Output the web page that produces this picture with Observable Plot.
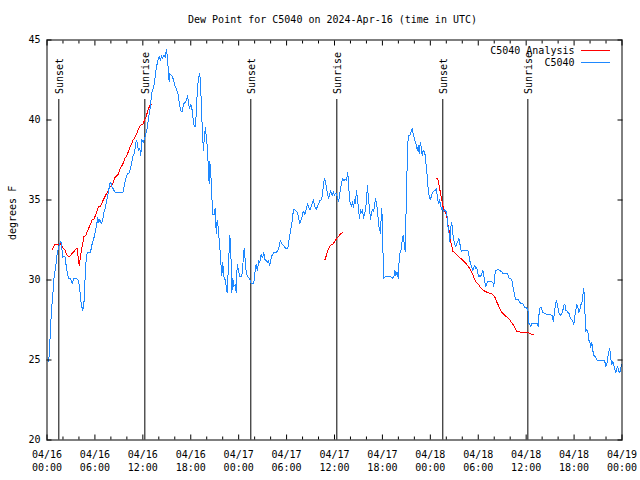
<!DOCTYPE html>
<html><head><meta charset="utf-8">
<script src="https://cdn.jsdelivr.net/npm/d3@7"></script>
<script src="https://cdn.jsdelivr.net/npm/@observablehq/plot@0.6"></script>
<style>body{margin:0;background:#fff}</style>
</head><body><div id="chart"></div>
<script>
const titleText = "Dew Point for C5040 on 2024-Apr-16 (time in UTC)";
const yLabelText = "degrees F";
const startTime = "2024-04-16T00:00:00Z";
const endTime = "2024-04-19T00:00:00Z";
const yTicks = [20, 25, 30, 35, 40, 45];
const seriesNames = ["C5040 Analysis", "C5040"];
const seriesColors = ["#ff0000", "#1e88ff"];
const sunLabels = ["Sunset", "Sunrise", "Sunset", "Sunrise", "Sunset", "Sunrise"];
const sunHours = [1.48, 12.25, 25.52, 36.29, 49.56, 60.21];

// C5040 observations: [hours since 04/16 00:00 UTC, dew point F]
const c5040Obs = [
[0.19,24.9],[0.31,25.5],[0.44,27.0],[0.56,28.1],[0.73,29.1],[0.85,30.0],[0.98,30.5],[1.15,31.1],[1.28,31.7],[1.48,32.1],[1.69,32.4],[1.82,32.3],[1.94,31.4],[2.10,31.5],[2.23,31.5],[2.40,30.9],[2.53,30.5],[2.69,30.1],[2.94,30.1],[3.16,29.8],[3.36,30.1],[3.69,30.1],[3.91,30.0],[4.07,29.6],[4.19,28.9],[4.32,28.4],[4.48,28.1],[4.66,28.75],[4.78,30.3],[4.95,31.6],[5.11,31.7],[5.45,31.7],[5.57,32.1],[5.74,32.4],[5.86,32.6],[6.04,33.0],[6.20,33.4],[6.36,33.9],[6.49,33.6],[6.61,33.8],[6.79,33.5],[6.95,33.7],[7.11,34.2],[7.29,34.5],[7.45,34.9],
[7.66,35.4],[7.86,36.0],[7.99,36.1],[8.16,35.8],[8.29,35.7],[8.49,35.5],[8.95,35.5],[9.54,35.5],[9.67,35.9],[9.83,36.25],[10.04,36.6],[10.29,36.7],[10.46,37.0],[10.62,37.4],[10.79,37.8],[10.96,37.9],[11.12,38.6],[11.24,38.75],[11.37,38.3],[11.49,38.1],[11.62,38.2],[11.75,37.8],[11.87,38.8],[12.05,38.6],[12.21,38.85],[12.37,39.1],[12.55,39.5],[12.71,40.1],[12.87,40.6],[12.96,40.9],[13.12,41.7],[13.30,42.0],[13.46,42.3],[13.59,42.9],[13.71,43.3],[13.87,43.7],[14.05,43.96],[14.21,43.7],[14.34,44.0],[14.46,43.85],[14.63,44.06],[14.80,43.9],[14.96,44.4],[15.09,43.85],[15.21,42.9],[15.30,42.4],[15.38,42.9],[15.55,42.8],[15.72,42.7],[15.88,42.4],[16.05,42.1],[16.22,41.9],[16.38,41.7],[16.55,41.1],[16.72,40.6],[16.93,40.5],[17.09,41.0],[17.31,41.1],[17.47,41.25],[17.59,41.5],[17.72,41.1],[17.84,40.7],[18.01,41.0],[18.18,40.6],[18.31,40.0],[18.43,39.6],[18.60,39.6],[18.72,40.8],[18.85,42.1],[19.01,42.7],[19.13,42.9],[19.22,42.2],[19.35,40.8],[19.47,39.0],[19.60,38.1],[19.72,39.1],[19.85,39.5],[19.97,38.75],[20.10,38.3],[20.22,36.7],[20.31,36.0],[20.39,37.4],[20.51,36.7],[20.64,35.2],[20.76,34.1],[20.94,34.1],[21.06,34.5],[21.19,32.9],[21.31,33.75],[21.44,33.3],[21.56,32.5],[21.64,32.1],[21.76,31.1],[21.89,30.3],[22.01,31.1],[22.14,30.2],[22.26,30.1],[22.39,29.8],[22.56,29.2],[22.69,30.6],[22.89,32.8],[23.02,31.8],[23.14,29.2],[23.27,30.1],[23.39,29.6],[23.57,29.7],[23.69,29.2],[23.82,31.0],[23.98,30.6],[24.14,30.2],[24.39,30.2],[24.57,31.25],[24.69,32.0],[24.82,31.2],[24.94,30.5],[25.11,30.2],[25.36,30.1],[25.57,29.8],[25.90,29.8],[26.02,30.4],[26.20,31.0],[26.32,30.6],[26.40,30.8],[26.52,31.2],[26.65,31.1],[26.82,31.6],[26.98,31.4],[27.15,31.7],[27.27,31.3],[27.45,31.2],[27.57,31.1],[27.74,31.2],[27.90,30.9],[28.07,31.4],[28.24,31.6],[28.40,31.7],[28.61,31.7],[28.83,31.8],[29.03,32.0],[29.20,32.45],[29.36,32.3],[29.53,32.2],[29.70,32.1],[29.86,32.0],[30.15,32.0],[30.37,32.7],[30.49,33.1],[30.62,33.4],[30.74,33.9],[30.87,34.4],[31.03,34.4],[31.21,34.3],[31.37,34.2],[31.53,33.85],[31.66,33.5],[31.78,33.7],[31.91,33.9],[32.03,34.2],[32.16,34.3],[32.28,34.1],[32.46,34.4],[32.62,34.8],[32.78,34.5],[32.96,34.4],[33.08,34.6],[33.21,34.8],[33.37,35.0],[33.53,34.6],[33.71,34.4],[33.87,34.6],[34.03,34.8],[34.21,35.0],[34.37,35.0],[34.50,35.4],[34.62,36.0],[34.75,36.35],[34.87,36.1],[35.00,35.8],[35.12,35.4],[35.25,35.1],[35.37,35.3],[35.50,35.6],[35.62,35.4],[35.75,35.3],[35.87,35.5],[36.00,35.3],[36.12,35.4],[36.25,35.4],[36.37,35.1],[36.50,34.9],[36.62,35.2],[36.75,35.7],[36.87,36.0],[37.00,36.35],[37.16,36.2],[37.34,36.3],[37.51,36.2],[37.64,36.7],[37.75,36.2],[37.88,35.0],[38.00,34.8],[38.13,34.6],[38.25,34.9],[38.38,34.5],[38.50,35.0],[38.63,34.8],[38.75,35.6],[38.88,35.1],[39.00,34.4],[39.13,33.85],[39.26,34.4],[39.38,34.2],[39.51,34.4],[39.63,33.85],[39.76,34.2],[39.88,34.3],[40.01,35.1],[40.13,35.9],[40.26,35.0],[40.38,34.5],[40.51,33.75],[40.63,34.2],[40.76,34.4],[40.88,34.3],[41.01,34.6],[41.13,35.1],[41.26,34.8],[41.38,34.4],[41.51,33.5],[41.63,33.2],[41.76,32.9],[41.85,34.0],[41.92,34.5],[42.01,33.3],[42.10,31.1],[42.17,30.1],[42.39,30.2],[42.80,30.2],[43.01,30.2],[43.23,30.1],[43.43,30.2],[43.56,30.6],[43.68,30.3],[43.85,30.5],[43.98,30.1],[44.10,31.25],[44.23,31.8],[44.35,31.9],[44.48,32.5],[44.60,32.8],[44.73,32.3],[44.85,31.8],[44.93,33.6],[45.02,35.5],[45.10,37.2],[45.23,39.0],[45.39,39.05],[45.52,39.1],[45.60,39.3],[45.73,39.5],[45.86,39.1],[45.98,38.9],[46.11,38.6],[46.23,38.5],[46.36,38.1],[46.48,38.4],[46.61,37.9],[46.73,38.6],[46.86,38.3],[46.98,37.8],[47.11,38.1],[47.24,38.0],[47.36,37.8],[47.49,37.1],[47.61,36.5],[47.74,35.6],[47.86,35.2],[47.99,35.0],[48.11,35.2],[48.24,35.4],[48.36,35.5],[48.49,35.6],[48.61,35.6],[48.74,35.7],[48.81,35.5],[48.93,35.0],[49.02,34.8],[49.15,35.0],[49.27,34.7],[49.40,34.4],[49.52,34.5],[49.65,34.3],[49.81,34.4],[49.94,34.3],[50.06,34.2],[50.19,33.4],[50.31,33.1],[50.44,32.4],[50.56,33.3],[50.69,33.6],[50.81,32.9],[50.94,32.5],[51.06,32.2],[51.19,32.1],[51.32,32.3],[51.44,32.4],[51.57,32.6],[51.69,32.3],[51.82,31.9],[51.94,31.8],[52.15,31.85],[52.40,31.85],[52.69,31.85],[52.82,31.6],[52.94,31.2],[53.07,31.0],[53.19,30.8],[53.32,30.6],[53.44,30.8],[53.57,30.9],[53.69,30.7],[53.82,30.8],[53.94,30.4],[54.07,30.2],[54.19,30.3],[54.32,30.2],[54.44,30.4],[54.57,30.6],[54.69,30.3],[54.82,29.9],[54.94,29.6],[55.07,29.8],[55.19,29.9],[55.53,29.9],[55.82,29.85],[55.95,29.6],[56.07,30.3],[56.20,30.6],[56.45,30.65],[56.70,30.6],[56.95,30.5],[57.07,30.4],[57.32,30.4],[57.62,30.4],[57.74,30.3],[57.87,30.1],[58.12,30.05],[58.25,29.9],[58.37,29.5],[58.45,29.3],[58.58,28.96],[58.70,28.8],[58.95,28.8],[59.20,28.6],[59.33,28.55],[59.58,28.5],[59.83,28.3],[60.08,28.25],[60.26,28.0],[60.33,27.3],[60.46,27.2],[60.58,27.1],[60.71,27.3],[60.92,27.3],[61.17,27.3],[61.38,27.3],[61.51,27.1],[61.63,28.0],[61.76,28.3],[61.92,28.3],[62.05,28.0],[62.21,27.95],[62.42,27.9],[62.63,27.85],[62.84,27.85],[63.26,27.8],[63.39,27.4],[63.51,27.8],[63.64,28.4],[63.76,28.7],[63.89,28.5],[64.01,28.2],[64.14,27.9],[64.30,27.8],[64.47,27.9],[64.59,28.1],[64.72,28.4],[64.84,28.5],[64.97,28.1],[65.14,28.05],[65.26,27.95],[65.39,27.9],[65.55,27.6],[65.72,27.5],[65.84,27.4],[65.97,27.2],[66.09,27.7],[66.22,28.1],[66.34,28.5],[66.47,28.3],[66.59,27.95],[66.72,28.1],[66.84,28.5],[66.97,28.5],[67.09,29.0],[67.22,29.5],[67.30,28.8],[67.39,27.6],[67.47,26.8],[67.59,26.9],[67.72,26.8],[67.84,26.25],[67.97,26.1],[68.09,25.8],[68.22,26.1],[68.34,25.6],[68.47,25.3],[68.64,25.2],[68.89,25.0],[69.31,25.0],[69.72,25.0],[69.85,24.9],[69.97,24.6],[70.10,24.7],[70.22,25.2],[70.35,25.5],[70.47,25.7],[70.60,25.1],[70.72,24.7],[70.85,24.9],[70.97,24.7],[71.10,24.4],[71.22,24.2],[71.35,24.5],[71.47,24.6],[71.60,24.3],[71.72,24.2],[71.85,24.5],[71.97,24.7]
];

// C5040 Analysis, three separate segments
const analysisSeg1 = [
[0.69,31.9],[0.85,32.1],[0.98,32.2],[1.40,32.2],[1.60,32.3],[1.82,32.2],[2.03,32.0],[2.23,31.9],[2.44,31.6],[2.65,31.5],[2.94,31.5],[3.19,31.7],[3.41,31.8],[3.57,31.9],[3.78,32.0],[3.91,31.4],[4.03,30.9],[4.16,31.3],[4.32,31.9],[4.45,32.2],[4.61,32.7],[4.86,32.8],[5.03,33.0],[5.20,33.2],[5.36,33.4],[5.53,33.6],[5.70,33.8],[5.86,33.8],[6.04,34.0],[6.20,34.2],[6.36,34.5],[6.54,34.6],[6.70,34.6],[6.86,34.8],[7.04,35.0],[7.24,35.2],[7.45,35.4],[7.70,35.6],[7.86,35.8],[8.08,35.9],[8.29,36.1],[8.49,36.4],[8.70,36.5],[8.92,36.6],[9.12,36.9],[9.33,37.1],[9.54,37.3],[9.74,37.6],[9.95,37.7],[10.17,38.0],[10.37,38.3],[10.58,38.5],[10.79,38.75],[10.99,38.9],[11.21,39.1],[11.42,39.4],[11.62,39.6],[11.83,39.7],[12.05,39.75],[12.21,40.0],[12.33,40.1],[12.46,40.3],[12.58,40.5],[12.71,40.7],[12.87,40.9],[13.05,40.95]
];
const analysisSeg2 = [
[34.79,31.25],[34.96,31.5],[35.12,31.75],[35.29,32.0],[35.46,32.15],[35.62,32.2],[35.79,32.25],[35.96,32.35],[36.13,32.5],[36.29,32.6],[36.46,32.7],[36.63,32.8],[36.79,32.9],[36.96,32.95]
];
const analysisSeg3 = [
[48.77,36.35],[48.90,36.35],[49.02,36.1],[49.15,35.8],[49.27,35.4],[49.40,35.1],[49.52,34.8],[49.65,34.4],[49.81,34.3],[49.94,34.2],[50.11,33.8],[50.23,33.4],[50.36,33.1],[50.44,32.9],[50.56,32.4],[50.69,32.1],[50.81,31.8],[51.06,31.7],[51.28,31.6],[51.49,31.5],[51.69,31.4],[51.91,31.3],[52.12,31.2],[52.32,31.1],[52.53,31.0],[52.74,30.85],[52.94,30.7],[53.15,30.5],[53.37,30.3],[53.57,30.0],[53.78,29.85],[53.99,29.75],[54.19,29.6],[54.41,29.45],[54.62,29.35],[54.82,29.3],[55.03,29.25],[55.25,29.2],[55.45,29.15],[55.66,29.15],[55.87,29.05],[56.07,28.95],[56.29,28.65],[56.50,28.45],[56.70,28.2],[56.91,28.0],[57.12,27.9],[57.32,27.8],[57.54,27.7],[57.75,27.6],[57.95,27.5],[58.16,27.35],[58.38,27.2],[58.58,27.0],[58.79,26.8],[59.20,26.75],[59.63,26.75],[60.04,26.75],[60.26,26.7],[60.46,26.65],[60.67,26.6],[60.96,26.6]
];

const t0 = new Date(startTime), t1 = new Date(endTime);
const toDate = h => new Date(+t0 + h * 3600e3);
const obs = c5040Obs.map(([h, v]) => ({date: toDate(h), value: v}));
const analysis = [analysisSeg1, analysisSeg2, analysisSeg3].flatMap((seg, i) =>
  seg.map(([h, v]) => ({date: toDate(h), value: v, seg: i})));
const sun = sunHours.map((h, i) => ({date: toDate(h), label: sunLabels[i]}));
const majorTicks = d3.utcHour.every(6).range(t0, new Date(+t1 + 1));
const minorTicks = d3.utcHour.every(2).range(t0, new Date(+t1 + 1)).filter(d => d.getUTCHours() % 6 !== 0);
const fmt = d3.utcFormat("%m/%d\n%H:%M");

const chart = Plot.plot({
  width: 640, height: 480,
  marginLeft: 46.5, marginRight: 18.5, marginTop: 39.5, marginBottom: 40.5,
  style: {fontFamily: "'DejaVu Sans Mono', monospace", fontSize: "10px", background: "#fff", color: "#000", overflow: "visible"},
  x: {type: "utc", domain: [t0, t1]},
  y: {domain: [20, 45]},
  marks: [
    Plot.ruleX(sun, {x: "date", insetTop: 59.5, stroke: "#000"}),
    Plot.text(sun, {x: "date", text: "label", frameAnchor: "top", dy: 54, dx: 1, rotate: -90, textAnchor: "start", lineAnchor: "middle", fill: "#000"}),
    Plot.line(analysis, {x: "date", y: "value", z: "seg", stroke: seriesColors[0], strokeWidth: 1, shapeRendering: "crispEdges"}),
    Plot.line(obs, {x: "date", y: "value", stroke: seriesColors[1], strokeWidth: 1, shapeRendering: "crispEdges"}),
    Plot.axisX(majorTicks, {anchor: "bottom", tickSize: -5, fill: "none", label: null}),
    Plot.axisX(majorTicks, {anchor: "top", tickSize: -5, fill: "none", label: null}),
    Plot.axisX(minorTicks, {anchor: "bottom", tickSize: -3, fill: "none", label: null}),
    Plot.axisX(minorTicks, {anchor: "top", tickSize: -3, fill: "none", label: null}),
    Plot.axisX(majorTicks, {anchor: "bottom", tickSize: 0, tickPadding: 9, tickFormat: fmt, lineHeight: 1.3, label: null}),
    Plot.axisY(yTicks, {anchor: "left", tickSize: -5, fill: "none", label: null}),
    Plot.axisY(yTicks, {anchor: "right", tickSize: -5, fill: "none", label: null}),
    Plot.axisY(yTicks, {anchor: "left", tickSize: 0, tickPadding: 6.5, label: null}),
    Plot.frame({stroke: "#000"}),
    Plot.text([titleText], {frameAnchor: "top", dx: -2, dy: -20.5, lineAnchor: "middle", fill: "#000"}),
    Plot.text([yLabelText], {frameAnchor: "left", dx: -34.5, rotate: -90, lineAnchor: "middle", fill: "#000"}),
    Plot.text([seriesNames[0]], {frameAnchor: "top-right", dx: -47.5, dy: 10.5, textAnchor: "end", lineAnchor: "middle", fill: "#000"}),
    Plot.text([seriesNames[1]], {frameAnchor: "top-right", dx: -47.5, dy: 22.5, textAnchor: "end", lineAnchor: "middle", fill: "#000"})
  ]
});

// legend line samples
const svg = d3.select(chart);
seriesColors.forEach((c, i) => {
  svg.append("line").attr("x1", 581).attr("x2", 610)
    .attr("y1", 50.5 + 12 * i).attr("y2", 50.5 + 12 * i)
    .attr("stroke", c).attr("stroke-width", 1);
});
document.getElementById("chart").appendChild(chart);
</script>
</body></html>
